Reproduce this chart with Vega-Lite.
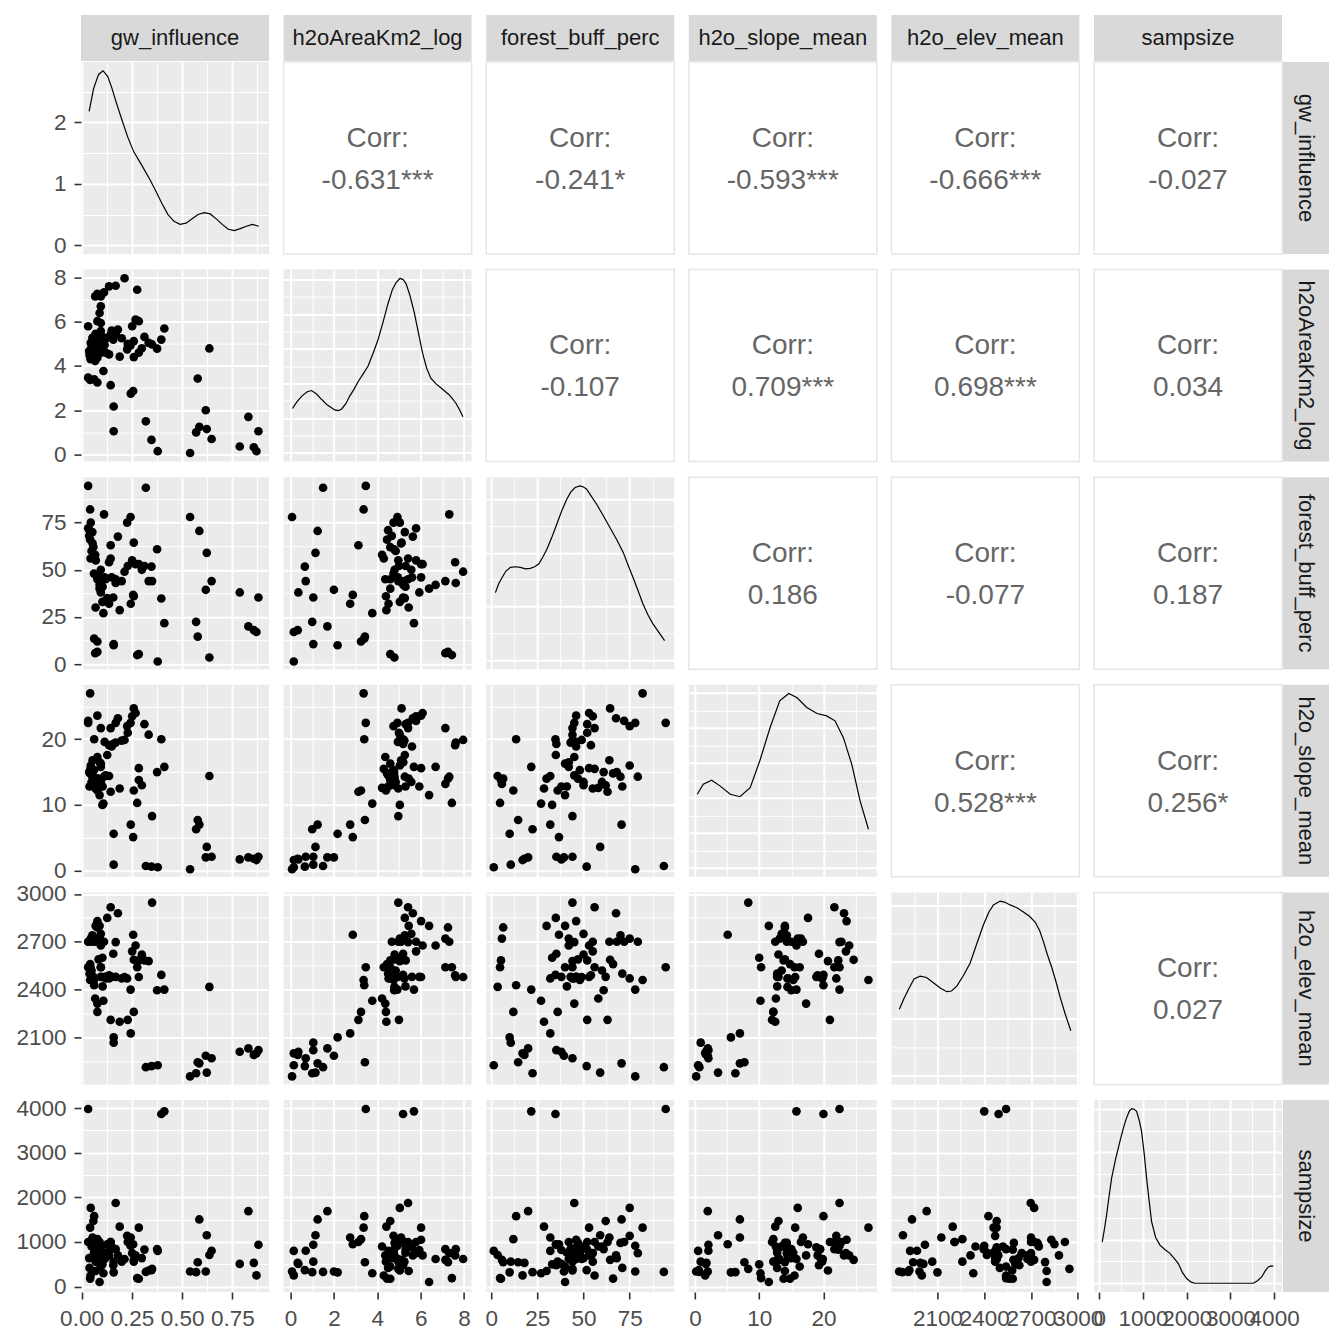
{
"$schema":"https://vega.github.io/schema/vega-lite/v6.json",
"background":"white",
"padding":{"left":1,"top":14,"right":5,"bottom":5},
"config":{"view":{"fill":"#EBEBEB","stroke":null},"axis":{"domain":false,"gridColor":"white","title":null,"labelFont":"Liberation Sans","labelFontSize":22.5,"labelColor":"#4D4D4D","tickColor":"#333333","tickSize":7,"tickWidth":1.6,"labelPadding":8,"labelOverlap":false,"labelFlush":false,"labelBound":false,"minExtent":0},"text":{"font":"Liberation Sans"}},
"datasets":{
"pts":[
{"gw_influence":0.540,"h2oAreaKm2_log":0.07,"forest_buff_perc":78,"h2o_slope_mean":0.2,"h2o_elev_mean":1855,"sampsize":340},
{"gw_influence":0.578,"h2oAreaKm2_log":3.43,"forest_buff_perc":14.6,"h2o_slope_mean":7.7,"h2o_elev_mean":1944,"sampsize":546},
{"gw_influence":0.570,"h2oAreaKm2_log":1.00,"forest_buff_perc":22.4,"h2o_slope_mean":6.3,"h2o_elev_mean":1875,"sampsize":325},
{"gw_influence":0.586,"h2oAreaKm2_log":1.25,"forest_buff_perc":70.6,"h2o_slope_mean":7.0,"h2o_elev_mean":1937,"sampsize":1505},
{"gw_influence":0.623,"h2oAreaKm2_log":1.15,"forest_buff_perc":59.0,"h2o_slope_mean":3.6,"h2o_elev_mean":1879,"sampsize":1151},
{"gw_influence":0.618,"h2oAreaKm2_log":2.00,"forest_buff_perc":39.4,"h2o_slope_mean":2.0,"h2o_elev_mean":1985,"sampsize":340},
{"gw_influence":0.647,"h2oAreaKm2_log":0.70,"forest_buff_perc":44.0,"h2o_slope_mean":2.1,"h2o_elev_mean":1969,"sampsize":804},
{"gw_influence":0.636,"h2oAreaKm2_log":4.79,"forest_buff_perc":3.5,"h2o_slope_mean":14.4,"h2o_elev_mean":2417,"sampsize":708},
{"gw_influence":0.787,"h2oAreaKm2_log":0.36,"forest_buff_perc":38.0,"h2o_slope_mean":1.7,"h2o_elev_mean":2010,"sampsize":509},
{"gw_influence":0.830,"h2oAreaKm2_log":1.70,"forest_buff_perc":20.0,"h2o_slope_mean":2.0,"h2o_elev_mean":2031,"sampsize":1690},
{"gw_influence":0.857,"h2oAreaKm2_log":0.33,"forest_buff_perc":18.0,"h2o_slope_mean":1.8,"h2o_elev_mean":1990,"sampsize":531},
{"gw_influence":0.870,"h2oAreaKm2_log":0.15,"forest_buff_perc":17.0,"h2o_slope_mean":1.6,"h2o_elev_mean":2000,"sampsize":251},
{"gw_influence":0.880,"h2oAreaKm2_log":1.05,"forest_buff_perc":35.3,"h2o_slope_mean":2.1,"h2o_elev_mean":2020,"sampsize":937},
{"gw_influence":0.145,"h2oAreaKm2_log":3.13,"forest_buff_perc":63,"h2o_slope_mean":12.0,"h2o_elev_mean":2210,"sampsize":1000},
{"gw_influence":0.160,"h2oAreaKm2_log":2.17,"forest_buff_perc":10.0,"h2o_slope_mean":5.6,"h2o_elev_mean":2100,"sampsize":320},
{"gw_influence":0.160,"h2oAreaKm2_log":1.05,"forest_buff_perc":10.6,"h2o_slope_mean":0.9,"h2o_elev_mean":2067,"sampsize":560},
{"gw_influence":0.245,"h2oAreaKm2_log":2.75,"forest_buff_perc":32.0,"h2o_slope_mean":7.0,"h2o_elev_mean":2125,"sampsize":1100},
{"gw_influence":0.257,"h2oAreaKm2_log":2.87,"forest_buff_perc":36.7,"h2o_slope_mean":5.1,"h2o_elev_mean":2744,"sampsize":950},
{"gw_influence":0.320,"h2oAreaKm2_log":1.50,"forest_buff_perc":93.5,"h2o_slope_mean":0.7,"h2o_elev_mean":1913,"sampsize":330},
{"gw_influence":0.348,"h2oAreaKm2_log":0.66,"forest_buff_perc":51.7,"h2o_slope_mean":0.6,"h2o_elev_mean":1920,"sampsize":370},
{"gw_influence":0.379,"h2oAreaKm2_log":0.15,"forest_buff_perc":1.4,"h2o_slope_mean":0.5,"h2o_elev_mean":1925,"sampsize":800},
{"gw_influence":0.033,"h2oAreaKm2_log":5.79,"forest_buff_perc":72,"h2o_slope_mean":22.8,"h2o_elev_mean":2700,"sampsize":1000},
{"gw_influence":0.033,"h2oAreaKm2_log":3.47,"forest_buff_perc":94.5,"h2o_slope_mean":22.5,"h2o_elev_mean":2540,"sampsize":3978},
{"gw_influence":0.043,"h2oAreaKm2_log":3.37,"forest_buff_perc":82,"h2o_slope_mean":27.0,"h2o_elev_mean":2460,"sampsize":1321},
{"gw_influence":0.063,"h2oAreaKm2_log":3.40,"forest_buff_perc":13.5,"h2o_slope_mean":20.0,"h2o_elev_mean":2427,"sampsize":1579},
{"gw_influence":0.079,"h2oAreaKm2_log":3.25,"forest_buff_perc":12,"h2o_slope_mean":12.2,"h2o_elev_mean":2260,"sampsize":1063},
{"gw_influence":0.046,"h2oAreaKm2_log":5.04,"forest_buff_perc":75,"h2o_slope_mean":16,"h2o_elev_mean":2720,"sampsize":1764},
{"gw_influence":0.038,"h2oAreaKm2_log":4.67,"forest_buff_perc":68,"h2o_slope_mean":15,"h2o_elev_mean":2700,"sampsize":640},
{"gw_influence":0.043,"h2oAreaKm2_log":4.45,"forest_buff_perc":66,"h2o_slope_mean":14.8,"h2o_elev_mean":2560,"sampsize":180},
{"gw_influence":0.059,"h2oAreaKm2_log":4.60,"forest_buff_perc":62,"h2o_slope_mean":13,"h2o_elev_mean":2480,"sampsize":1469},
{"gw_influence":0.068,"h2oAreaKm2_log":4.22,"forest_buff_perc":58,"h2o_slope_mean":12.6,"h2o_elev_mean":2344,"sampsize":900},
{"gw_influence":0.079,"h2oAreaKm2_log":4.37,"forest_buff_perc":45,"h2o_slope_mean":17.3,"h2o_elev_mean":2312,"sampsize":700},
{"gw_influence":0.054,"h2oAreaKm2_log":5.27,"forest_buff_perc":70,"h2o_slope_mean":14.3,"h2o_elev_mean":2740,"sampsize":980},
{"gw_influence":0.071,"h2oAreaKm2_log":4.97,"forest_buff_perc":55,"h2o_slope_mean":12.5,"h2o_elev_mean":2700,"sampsize":560},
{"gw_influence":0.068,"h2oAreaKm2_log":7.14,"forest_buff_perc":5.8,"h2o_slope_mean":13.2,"h2o_elev_mean":2720,"sampsize":600},
{"gw_influence":0.079,"h2oAreaKm2_log":7.26,"forest_buff_perc":6.5,"h2o_slope_mean":14.0,"h2o_elev_mean":2790,"sampsize":550},
{"gw_influence":0.096,"h2oAreaKm2_log":7.14,"forest_buff_perc":44,"h2o_slope_mean":21.7,"h2o_elev_mean":2540,"sampsize":840},
{"gw_influence":0.112,"h2oAreaKm2_log":7.32,"forest_buff_perc":79.4,"h2o_slope_mean":14.3,"h2o_elev_mean":2700,"sampsize":750},
{"gw_influence":0.096,"h2oAreaKm2_log":6.69,"forest_buff_perc":42,"h2o_slope_mean":15.8,"h2o_elev_mean":2677,"sampsize":620},
{"gw_influence":0.090,"h2oAreaKm2_log":6.39,"forest_buff_perc":40,"h2o_slope_mean":11.5,"h2o_elev_mean":2800,"sampsize":103},
{"gw_influence":0.096,"h2oAreaKm2_log":5.94,"forest_buff_perc":38,"h2o_slope_mean":12.8,"h2o_elev_mean":2480,"sampsize":820},
{"gw_influence":0.079,"h2oAreaKm2_log":6.02,"forest_buff_perc":46,"h2o_slope_mean":23.6,"h2o_elev_mean":2830,"sampsize":1050},
{"gw_influence":0.096,"h2oAreaKm2_log":5.57,"forest_buff_perc":50,"h2o_slope_mean":13.5,"h2o_elev_mean":2750,"sampsize":900},
{"gw_influence":0.137,"h2oAreaKm2_log":7.59,"forest_buff_perc":54,"h2o_slope_mean":19.1,"h2o_elev_mean":2490,"sampsize":700},
{"gw_influence":0.170,"h2oAreaKm2_log":7.62,"forest_buff_perc":43,"h2o_slope_mean":19.5,"h2o_elev_mean":2480,"sampsize":840},
{"gw_influence":0.214,"h2oAreaKm2_log":7.96,"forest_buff_perc":49,"h2o_slope_mean":19.9,"h2o_elev_mean":2479,"sampsize":620},
{"gw_influence":0.277,"h2oAreaKm2_log":7.44,"forest_buff_perc":4.8,"h2o_slope_mean":10.3,"h2o_elev_mean":2540,"sampsize":192},
{"gw_influence":0.104,"h2oAreaKm2_log":5.04,"forest_buff_perc":33,"h2o_slope_mean":10.0,"h2o_elev_mean":2600,"sampsize":500},
{"gw_influence":0.128,"h2oAreaKm2_log":5.27,"forest_buff_perc":35,"h2o_slope_mean":17.6,"h2o_elev_mean":2850,"sampsize":950},
{"gw_influence":0.145,"h2oAreaKm2_log":5.42,"forest_buff_perc":56,"h2o_slope_mean":21.7,"h2o_elev_mean":2917,"sampsize":1000},
{"gw_influence":0.170,"h2oAreaKm2_log":5.42,"forest_buff_perc":45,"h2o_slope_mean":22.5,"h2o_elev_mean":2698,"sampsize":1874},
{"gw_influence":0.181,"h2oAreaKm2_log":5.64,"forest_buff_perc":67.6,"h2o_slope_mean":23.2,"h2o_elev_mean":2879,"sampsize":700},
{"gw_influence":0.158,"h2oAreaKm2_log":5.19,"forest_buff_perc":35.3,"h2o_slope_mean":19.3,"h2o_elev_mean":2625,"sampsize":480},
{"gw_influence":0.137,"h2oAreaKm2_log":4.52,"forest_buff_perc":32,"h2o_slope_mean":14.4,"h2o_elev_mean":2470,"sampsize":800},
{"gw_influence":0.190,"h2oAreaKm2_log":4.42,"forest_buff_perc":28.6,"h2o_slope_mean":12.5,"h2o_elev_mean":2198,"sampsize":1343},
{"gw_influence":0.109,"h2oAreaKm2_log":3.77,"forest_buff_perc":27,"h2o_slope_mean":10.2,"h2o_elev_mean":2330,"sampsize":300},
{"gw_influence":0.227,"h2oAreaKm2_log":4.75,"forest_buff_perc":75,"h2o_slope_mean":22.0,"h2o_elev_mean":2470,"sampsize":1137},
{"gw_influence":0.244,"h2oAreaKm2_log":4.93,"forest_buff_perc":78,"h2o_slope_mean":22.5,"h2o_elev_mean":2400,"sampsize":915},
{"gw_influence":0.260,"h2oAreaKm2_log":5.12,"forest_buff_perc":64.4,"h2o_slope_mean":24.7,"h2o_elev_mean":2587,"sampsize":600},
{"gw_influence":0.252,"h2oAreaKm2_log":5.79,"forest_buff_perc":55,"h2o_slope_mean":23.5,"h2o_elev_mean":2640,"sampsize":750},
{"gw_influence":0.269,"h2oAreaKm2_log":6.09,"forest_buff_perc":53,"h2o_slope_mean":24.0,"h2o_elev_mean":2677,"sampsize":700},
{"gw_influence":0.285,"h2oAreaKm2_log":6.02,"forest_buff_perc":53,"h2o_slope_mean":15.6,"h2o_elev_mean":2479,"sampsize":1321},
{"gw_influence":0.285,"h2oAreaKm2_log":4.60,"forest_buff_perc":5.3,"h2o_slope_mean":13.8,"h2o_elev_mean":2583,"sampsize":177},
{"gw_influence":0.313,"h2oAreaKm2_log":5.31,"forest_buff_perc":52,"h2o_slope_mean":22.3,"h2o_elev_mean":2583,"sampsize":830},
{"gw_influence":0.334,"h2oAreaKm2_log":5.04,"forest_buff_perc":44,"h2o_slope_mean":20.7,"h2o_elev_mean":2579,"sampsize":362},
{"gw_influence":0.351,"h2oAreaKm2_log":4.97,"forest_buff_perc":44,"h2o_slope_mean":8.3,"h2o_elev_mean":2946,"sampsize":399},
{"gw_influence":0.376,"h2oAreaKm2_log":4.78,"forest_buff_perc":60.9,"h2o_slope_mean":15.0,"h2o_elev_mean":2396,"sampsize":841},
{"gw_influence":0.397,"h2oAreaKm2_log":5.19,"forest_buff_perc":34.8,"h2o_slope_mean":20.0,"h2o_elev_mean":2492,"sampsize":3867},
{"gw_influence":0.412,"h2oAreaKm2_log":5.69,"forest_buff_perc":21.7,"h2o_slope_mean":15.8,"h2o_elev_mean":2400,"sampsize":3926},
{"gw_influence":0.120,"h2oAreaKm2_log":4.60,"forest_buff_perc":45,"h2o_slope_mean":14.5,"h2o_elev_mean":2470,"sampsize":650},
{"gw_influence":0.096,"h2oAreaKm2_log":4.60,"forest_buff_perc":40,"h2o_slope_mean":16.3,"h2o_elev_mean":2540,"sampsize":450},
{"gw_influence":0.050,"h2oAreaKm2_log":4.85,"forest_buff_perc":60,"h2o_slope_mean":13.5,"h2o_elev_mean":2520,"sampsize":900},
{"gw_influence":0.062,"h2oAreaKm2_log":4.75,"forest_buff_perc":48,"h2o_slope_mean":15.3,"h2o_elev_mean":2460,"sampsize":760},
{"gw_influence":0.040,"h2oAreaKm2_log":4.50,"forest_buff_perc":71,"h2o_slope_mean":12.8,"h2o_elev_mean":2500,"sampsize":420},
{"gw_influence":0.055,"h2oAreaKm2_log":5.10,"forest_buff_perc":64,"h2o_slope_mean":16.8,"h2o_elev_mean":2700,"sampsize":1100},
{"gw_influence":0.085,"h2oAreaKm2_log":4.80,"forest_buff_perc":47,"h2o_slope_mean":14.0,"h2o_elev_mean":2590,"sampsize":980},
{"gw_influence":0.090,"h2oAreaKm2_log":5.20,"forest_buff_perc":42,"h2o_slope_mean":16.5,"h2o_elev_mean":2720,"sampsize":1000},
{"gw_influence":0.115,"h2oAreaKm2_log":4.95,"forest_buff_perc":46,"h2o_slope_mean":19.6,"h2o_elev_mean":2480,"sampsize":620},
{"gw_influence":0.200,"h2oAreaKm2_log":5.25,"forest_buff_perc":44,"h2o_slope_mean":19.8,"h2o_elev_mean":2470,"sampsize":560},
{"gw_influence":0.230,"h2oAreaKm2_log":5.00,"forest_buff_perc":52,"h2o_slope_mean":21.0,"h2o_elev_mean":2210,"sampsize":1000},
{"gw_influence":0.300,"h2oAreaKm2_log":4.80,"forest_buff_perc":50,"h2o_slope_mean":13.0,"h2o_elev_mean":2620,"sampsize":640},
{"gw_influence":0.150,"h2oAreaKm2_log":5.60,"forest_buff_perc":46,"h2o_slope_mean":18.9,"h2o_elev_mean":2480,"sampsize":880},
{"gw_influence":0.070,"h2oAreaKm2_log":5.45,"forest_buff_perc":30,"h2o_slope_mean":14.0,"h2o_elev_mean":2800,"sampsize":350},
{"gw_influence":0.105,"h2oAreaKm2_log":5.30,"forest_buff_perc":41,"h2o_slope_mean":12.8,"h2o_elev_mean":2420,"sampsize":760},
{"gw_influence":0.045,"h2oAreaKm2_log":4.30,"forest_buff_perc":56,"h2o_slope_mean":15.5,"h2o_elev_mean":2540,"sampsize":250},
{"gw_influence":0.260,"h2oAreaKm2_log":4.40,"forest_buff_perc":36,"h2o_slope_mean":12.2,"h2o_elev_mean":2260,"sampsize":560}
],
"dgw":[{"x":0.038,"density":2.18},{"x":0.06,"density":2.55},{"x":0.085,"density":2.78},{"x":0.107,"density":2.84},{"x":0.13,"density":2.75},{"x":0.15,"density":2.57},{"x":0.175,"density":2.3},{"x":0.2,"density":2.05},{"x":0.23,"density":1.76},{"x":0.26,"density":1.52},{"x":0.3,"density":1.3},{"x":0.34,"density":1.07},{"x":0.37,"density":0.88},{"x":0.4,"density":0.68},{"x":0.43,"density":0.5},{"x":0.46,"density":0.39},{"x":0.49,"density":0.34},{"x":0.52,"density":0.36},{"x":0.55,"density":0.43},{"x":0.58,"density":0.5},{"x":0.61,"density":0.53},{"x":0.64,"density":0.51},{"x":0.67,"density":0.43},{"x":0.7,"density":0.34},{"x":0.73,"density":0.26},{"x":0.76,"density":0.24},{"x":0.79,"density":0.27},{"x":0.82,"density":0.31},{"x":0.85,"density":0.34},{"x":0.881,"density":0.31}],
"darea":[{"x":0.09,"density":0.064},{"x":0.3,"density":0.074},{"x":0.52,"density":0.082},{"x":0.75,"density":0.088},{"x":0.97,"density":0.09},{"x":1.2,"density":0.085},{"x":1.44,"density":0.077},{"x":1.7,"density":0.069},{"x":2.04,"density":0.062},{"x":2.2,"density":0.061},{"x":2.35,"density":0.063},{"x":2.55,"density":0.071},{"x":2.73,"density":0.082},{"x":2.93,"density":0.092},{"x":3.12,"density":0.103},{"x":3.35,"density":0.114},{"x":3.57,"density":0.125},{"x":3.8,"density":0.143},{"x":4.03,"density":0.163},{"x":4.26,"density":0.188},{"x":4.49,"density":0.215},{"x":4.7,"density":0.236},{"x":4.87,"density":0.246},{"x":5.05,"density":0.252},{"x":5.2,"density":0.25},{"x":5.33,"density":0.244},{"x":5.5,"density":0.228},{"x":5.71,"density":0.202},{"x":5.9,"density":0.173},{"x":6.09,"density":0.144},{"x":6.28,"density":0.122},{"x":6.47,"density":0.108},{"x":6.7,"density":0.1},{"x":6.93,"density":0.094},{"x":7.12,"density":0.089},{"x":7.31,"density":0.084},{"x":7.47,"density":0.078},{"x":7.62,"density":0.072},{"x":7.8,"density":0.062},{"x":7.95,"density":0.052}],
"dforest":[{"x":2.3,"density":0.0063},{"x":4,"density":0.0071},{"x":5.9,"density":0.0077},{"x":8,"density":0.0083},{"x":10.4,"density":0.00864},{"x":13,"density":0.0087},{"x":15.8,"density":0.00864},{"x":18.5,"density":0.0085},{"x":21.2,"density":0.00855},{"x":23.5,"density":0.0087},{"x":25.7,"density":0.00895},{"x":28,"density":0.0096},{"x":30.2,"density":0.01034},{"x":33,"density":0.0115},{"x":35.5,"density":0.01265},{"x":38,"density":0.0138},{"x":40.9,"density":0.01497},{"x":43,"density":0.0156},{"x":45.4,"density":0.01605},{"x":48.1,"density":0.0162},{"x":50,"density":0.0161},{"x":51.7,"density":0.0159},{"x":54,"density":0.0153},{"x":57.1,"density":0.0145},{"x":60.5,"density":0.0135},{"x":64.3,"density":0.01234},{"x":68,"density":0.0112},{"x":71.5,"density":0.01003},{"x":74,"density":0.0089},{"x":76.8,"density":0.0077},{"x":79.5,"density":0.0065},{"x":82.2,"density":0.00525},{"x":85,"density":0.0042},{"x":87.6,"density":0.0034},{"x":90.8,"density":0.0026},{"x":93.9,"density":0.00185}],
"dslope":[{"x":0.37,"density":0.0211},{"x":1.3,"density":0.024},{"x":2.6,"density":0.0251},{"x":3.9,"density":0.0235},{"x":5.5,"density":0.0211},{"x":7.0,"density":0.0204},{"x":8.6,"density":0.023},{"x":10.1,"density":0.0307},{"x":11.7,"density":0.0402},{"x":13.2,"density":0.0478},{"x":14.6,"density":0.0499},{"x":15.9,"density":0.0487},{"x":17.4,"density":0.0459},{"x":19.0,"density":0.0442},{"x":20.5,"density":0.0435},{"x":21.8,"density":0.0421},{"x":23.1,"density":0.0373},{"x":24.4,"density":0.0297},{"x":25.7,"density":0.0192},{"x":27.0,"density":0.0111}],
"delev":[{"x":1856,"density":0.000467},{"x":1885,"density":0.00054},{"x":1914,"density":0.000606},{"x":1950,"density":0.00068},{"x":1989,"density":0.000699},{"x":2030,"density":0.00069},{"x":2074,"density":0.000653},{"x":2120,"density":0.000615},{"x":2160,"density":0.00059},{"x":2190,"density":0.000595},{"x":2224,"density":0.000629},{"x":2265,"density":0.0007},{"x":2310,"density":0.000792},{"x":2350,"density":0.00092},{"x":2395,"density":0.00106},{"x":2430,"density":0.00115},{"x":2459,"density":0.0012},{"x":2502,"density":0.001227},{"x":2530,"density":0.00122},{"x":2566,"density":0.0012},{"x":2610,"density":0.00118},{"x":2651,"density":0.00115},{"x":2690,"density":0.00112},{"x":2726,"density":0.00108},{"x":2755,"density":0.00102},{"x":2780,"density":0.00094},{"x":2805,"density":0.00085},{"x":2833,"density":0.00076},{"x":2860,"density":0.00066},{"x":2887,"density":0.00055},{"x":2920,"density":0.00043},{"x":2955,"density":0.000316}],
"dsamp":[{"x":69,"density":0.00019},{"x":120,"density":0.00025},{"x":168,"density":0.000313},{"x":225,"density":0.0004},{"x":283,"density":0.000482},{"x":375,"density":0.00057},{"x":473,"density":0.00065},{"x":550,"density":0.00071},{"x":625,"density":0.000758},{"x":690,"density":0.00079},{"x":740,"density":0.0008},{"x":800,"density":0.000797},{"x":854,"density":0.000788},{"x":910,"density":0.00075},{"x":968,"density":0.000696},{"x":1025,"density":0.0006},{"x":1083,"density":0.000482},{"x":1140,"density":0.00038},{"x":1197,"density":0.000282},{"x":1290,"density":0.00021},{"x":1389,"density":0.000175},{"x":1500,"density":0.000155},{"x":1617,"density":0.000137},{"x":1710,"density":0.000115},{"x":1809,"density":0.0000906},{"x":1900,"density":0.00005},{"x":2000,"density":0.0000216},{"x":2100,"density":0.000005},{"x":2190,"density":0},{"x":2500,"density":0},{"x":3000,"density":0},{"x":3300,"density":0},{"x":3525,"density":0},{"x":3620,"density":0.000012},{"x":3714,"density":0.000029},{"x":3800,"density":0.000058},{"x":3867,"density":0.000075},{"x":3930,"density":0.00008},{"x":3983,"density":0.000078}]
},
"columns":6,
"spacing":{"row":15.6,"column":14.6},
"bounds":"flush",
"concat":[
{"width":188,"height":192,"resolve":{"axis":{"x":"independent","y":"independent"}},"layer":[
 {"data":{"name":"dgw"},"mark":{"type":"line","color":"black","strokeWidth":1.2},"encoding":{
  "x":{"field":"x","type":"quantitative","scale":{"domain":[-0.0025,0.9325],"nice":false,"zero":false},"axis":{"values":[0,0.125,0.25,0.375,0.5,0.625,0.75,0.875],"labels":false,"ticks":false,"gridWidth":{"condition":{"test":"abs(datum.value/0.25-round(datum.value/0.25))<0.01","value":2},"value":1}}},
  "y":{"field":"density","type":"quantitative","scale":{"domain":[-0.142,2.982],"nice":false,"zero":false},"axis":{"orient":"left","values":[0,0.5,1,1.5,2,2.5],"format":"~g","minExtent":80,"maxExtent":80,"labelExpr":"abs(datum.value-round(datum.value))<0.01 ? datum.label : ''","tickOpacity":{"condition":{"test":"abs(datum.value-round(datum.value))<0.01","value":1},"value":0},"gridWidth":{"condition":{"test":"abs(datum.value-round(datum.value))<0.01","value":2},"value":1}}}}},
 {"data":{"values":[{"t":"gw_influence"}]},"mark":{"type":"rect","color":"#D9D9D9"},"encoding":{"x":{"datum":-0.0025,"type":"quantitative","scale":{"domain":[-0.0025,0.9325],"nice":false,"zero":false},"axis":null},"x2":{"datum":0.9325},"y":{"datum":2.9983,"type":"quantitative","scale":{"domain":[-0.142,2.982],"nice":false,"zero":false},"axis":null},"y2":{"datum":3.7467}}},
 {"data":{"values":[{"t":"gw_influence"}]},"mark":{"type":"text","fontSize":22,"color":"#1A1A1A"},"encoding":{"x":{"datum":0.465,"type":"quantitative","scale":{"domain":[-0.0025,0.9325],"nice":false,"zero":false},"axis":null},"y":{"datum":3.3725,"type":"quantitative","scale":{"domain":[-0.142,2.982],"nice":false,"zero":false},"axis":null},"text":{"field":"t"}}}
]},
{"width":188,"height":192,"view":{"fill":"white","stroke":"#E6E6E6","strokeWidth":1.5},"layer":[
 {"data":{"values":[{"t":"Corr:\n-0.631***"}]},"mark":{"type":"text","fontSize":28,"color":"#666666","lineBreak":"\n","lineHeight":42},"encoding":{"x":{"datum":0.5,"type":"quantitative","scale":{"domain":[0,1],"nice":false,"zero":false},"axis":null},"y":{"datum":0.6,"type":"quantitative","scale":{"domain":[0,1],"nice":false,"zero":false},"axis":null},"text":{"field":"t"}}},
 {"data":{"values":[{"t":"h2oAreaKm2_log"}]},"mark":{"type":"rect","color":"#D9D9D9"},"encoding":{"x":{"datum":0,"type":"quantitative","scale":{"domain":[0,1],"nice":false,"zero":false},"axis":null},"x2":{"datum":1},"y":{"datum":1.0052,"type":"quantitative","scale":{"domain":[0,1],"nice":false,"zero":false},"axis":null},"y2":{"datum":1.2448}}},
 {"data":{"values":[{"t":"h2oAreaKm2_log"}]},"mark":{"type":"text","fontSize":22,"color":"#1A1A1A"},"encoding":{"x":{"datum":0.5,"type":"quantitative","scale":{"domain":[0,1],"nice":false,"zero":false},"axis":null},"y":{"datum":1.125,"type":"quantitative","scale":{"domain":[0,1],"nice":false,"zero":false},"axis":null},"text":{"field":"t"}}}
]},
{"width":188,"height":192,"view":{"fill":"white","stroke":"#E6E6E6","strokeWidth":1.5},"layer":[
 {"data":{"values":[{"t":"Corr:\n-0.241*"}]},"mark":{"type":"text","fontSize":28,"color":"#666666","lineBreak":"\n","lineHeight":42},"encoding":{"x":{"datum":0.5,"type":"quantitative","scale":{"domain":[0,1],"nice":false,"zero":false},"axis":null},"y":{"datum":0.6,"type":"quantitative","scale":{"domain":[0,1],"nice":false,"zero":false},"axis":null},"text":{"field":"t"}}},
 {"data":{"values":[{"t":"forest_buff_perc"}]},"mark":{"type":"rect","color":"#D9D9D9"},"encoding":{"x":{"datum":0,"type":"quantitative","scale":{"domain":[0,1],"nice":false,"zero":false},"axis":null},"x2":{"datum":1},"y":{"datum":1.0052,"type":"quantitative","scale":{"domain":[0,1],"nice":false,"zero":false},"axis":null},"y2":{"datum":1.2448}}},
 {"data":{"values":[{"t":"forest_buff_perc"}]},"mark":{"type":"text","fontSize":22,"color":"#1A1A1A"},"encoding":{"x":{"datum":0.5,"type":"quantitative","scale":{"domain":[0,1],"nice":false,"zero":false},"axis":null},"y":{"datum":1.125,"type":"quantitative","scale":{"domain":[0,1],"nice":false,"zero":false},"axis":null},"text":{"field":"t"}}}
]},
{"width":188,"height":192,"view":{"fill":"white","stroke":"#E6E6E6","strokeWidth":1.5},"layer":[
 {"data":{"values":[{"t":"Corr:\n-0.593***"}]},"mark":{"type":"text","fontSize":28,"color":"#666666","lineBreak":"\n","lineHeight":42},"encoding":{"x":{"datum":0.5,"type":"quantitative","scale":{"domain":[0,1],"nice":false,"zero":false},"axis":null},"y":{"datum":0.6,"type":"quantitative","scale":{"domain":[0,1],"nice":false,"zero":false},"axis":null},"text":{"field":"t"}}},
 {"data":{"values":[{"t":"h2o_slope_mean"}]},"mark":{"type":"rect","color":"#D9D9D9"},"encoding":{"x":{"datum":0,"type":"quantitative","scale":{"domain":[0,1],"nice":false,"zero":false},"axis":null},"x2":{"datum":1},"y":{"datum":1.0052,"type":"quantitative","scale":{"domain":[0,1],"nice":false,"zero":false},"axis":null},"y2":{"datum":1.2448}}},
 {"data":{"values":[{"t":"h2o_slope_mean"}]},"mark":{"type":"text","fontSize":22,"color":"#1A1A1A"},"encoding":{"x":{"datum":0.5,"type":"quantitative","scale":{"domain":[0,1],"nice":false,"zero":false},"axis":null},"y":{"datum":1.125,"type":"quantitative","scale":{"domain":[0,1],"nice":false,"zero":false},"axis":null},"text":{"field":"t"}}}
]},
{"width":188,"height":192,"view":{"fill":"white","stroke":"#E6E6E6","strokeWidth":1.5},"layer":[
 {"data":{"values":[{"t":"Corr:\n-0.666***"}]},"mark":{"type":"text","fontSize":28,"color":"#666666","lineBreak":"\n","lineHeight":42},"encoding":{"x":{"datum":0.5,"type":"quantitative","scale":{"domain":[0,1],"nice":false,"zero":false},"axis":null},"y":{"datum":0.6,"type":"quantitative","scale":{"domain":[0,1],"nice":false,"zero":false},"axis":null},"text":{"field":"t"}}},
 {"data":{"values":[{"t":"h2o_elev_mean"}]},"mark":{"type":"rect","color":"#D9D9D9"},"encoding":{"x":{"datum":0,"type":"quantitative","scale":{"domain":[0,1],"nice":false,"zero":false},"axis":null},"x2":{"datum":1},"y":{"datum":1.0052,"type":"quantitative","scale":{"domain":[0,1],"nice":false,"zero":false},"axis":null},"y2":{"datum":1.2448}}},
 {"data":{"values":[{"t":"h2o_elev_mean"}]},"mark":{"type":"text","fontSize":22,"color":"#1A1A1A"},"encoding":{"x":{"datum":0.5,"type":"quantitative","scale":{"domain":[0,1],"nice":false,"zero":false},"axis":null},"y":{"datum":1.125,"type":"quantitative","scale":{"domain":[0,1],"nice":false,"zero":false},"axis":null},"text":{"field":"t"}}}
]},
{"width":188,"height":192,"view":{"fill":"white","stroke":"#E6E6E6","strokeWidth":1.5},"layer":[
 {"data":{"values":[{"t":"Corr:\n-0.027"}]},"mark":{"type":"text","fontSize":28,"color":"#666666","lineBreak":"\n","lineHeight":42},"encoding":{"x":{"datum":0.5,"type":"quantitative","scale":{"domain":[0,1],"nice":false,"zero":false},"axis":null},"y":{"datum":0.6,"type":"quantitative","scale":{"domain":[0,1],"nice":false,"zero":false},"axis":null},"text":{"field":"t"}}},
 {"data":{"values":[{"t":"sampsize"}]},"mark":{"type":"rect","color":"#D9D9D9"},"encoding":{"x":{"datum":0,"type":"quantitative","scale":{"domain":[0,1],"nice":false,"zero":false},"axis":null},"x2":{"datum":1},"y":{"datum":1.0052,"type":"quantitative","scale":{"domain":[0,1],"nice":false,"zero":false},"axis":null},"y2":{"datum":1.2448}}},
 {"data":{"values":[{"t":"sampsize"}]},"mark":{"type":"text","fontSize":22,"color":"#1A1A1A"},"encoding":{"x":{"datum":0.5,"type":"quantitative","scale":{"domain":[0,1],"nice":false,"zero":false},"axis":null},"y":{"datum":1.125,"type":"quantitative","scale":{"domain":[0,1],"nice":false,"zero":false},"axis":null},"text":{"field":"t"}}},
 {"data":{"values":[{"t":"gw_influence"}]},"mark":{"type":"rect","color":"#D9D9D9"},"encoding":{"x":{"datum":1.0053,"type":"quantitative","scale":{"domain":[0,1],"nice":false,"zero":false},"axis":null},"x2":{"datum":1.25},"y":{"datum":0,"type":"quantitative","scale":{"domain":[0,1],"nice":false,"zero":false},"axis":null},"y2":{"datum":1}}},
 {"data":{"values":[{"t":"gw_influence"}]},"mark":{"type":"text","fontSize":22,"angle":90,"color":"#1A1A1A"},"encoding":{"x":{"datum":1.1277,"type":"quantitative","scale":{"domain":[0,1],"nice":false,"zero":false},"axis":null},"y":{"datum":0.5,"type":"quantitative","scale":{"domain":[0,1],"nice":false,"zero":false},"axis":null},"text":{"field":"t"}}}
]},
{"width":188,"height":192,"data":{"name":"pts"},"mark":{"type":"circle","size":75,"color":"black","opacity":1},"encoding":{
 "x":{"field":"gw_influence","type":"quantitative","scale":{"domain":[-0.0025,0.9325],"nice":false,"zero":false},"axis":{"values":[0,0.125,0.25,0.375,0.5,0.625,0.75,0.875],"labels":false,"ticks":false,"gridWidth":{"condition":{"test":"abs(datum.value/0.25-round(datum.value/0.25))<0.01","value":2},"value":1}}},
 "y":{"field":"h2oAreaKm2_log","type":"quantitative","scale":{"domain":[-0.32,8.35],"nice":false,"zero":false},"axis":{"values":[0,1,2,3,4,5,6,7,8],"format":"d","minExtent":80,"maxExtent":80,"labelExpr":"abs(datum.value/2-round(datum.value/2))<0.01 ? datum.label : ''","tickOpacity":{"condition":{"test":"abs(datum.value/2-round(datum.value/2))<0.01","value":1},"value":0},"gridWidth":{"condition":{"test":"abs(datum.value/2-round(datum.value/2))<0.01","value":2},"value":1}}}}},
{"width":188,"height":192,"data":{"name":"darea"},"mark":{"type":"line","color":"black","strokeWidth":1.2},"encoding":{
 "x":{"field":"x","type":"quantitative","scale":{"domain":[-0.32,8.35],"nice":false,"zero":false},"axis":{"values":[0,1,2,3,4,5,6,7,8],"labels":false,"ticks":false,"gridWidth":{"condition":{"test":"abs(datum.value/2-round(datum.value/2))<0.01","value":2},"value":1}}},
 "y":{"field":"density","type":"quantitative","scale":{"domain":[-0.0126,0.2646],"nice":false,"zero":false},"axis":{"values":[0,0.025,0.05,0.075,0.1,0.125,0.15,0.175,0.2,0.225,0.25],"labels":false,"ticks":false,"gridWidth":{"condition":{"test":"abs(datum.value/0.05-round(datum.value/0.05))<0.01","value":2},"value":1}}}}},
{"width":188,"height":192,"view":{"fill":"white","stroke":"#E6E6E6","strokeWidth":1.5},"layer":[
 {"data":{"values":[{"t":"Corr:\n-0.107"}]},"mark":{"type":"text","fontSize":28,"color":"#666666","lineBreak":"\n","lineHeight":42},"encoding":{"x":{"datum":0.5,"type":"quantitative","scale":{"domain":[0,1],"nice":false,"zero":false},"axis":null},"y":{"datum":0.6,"type":"quantitative","scale":{"domain":[0,1],"nice":false,"zero":false},"axis":null},"text":{"field":"t"}}}
]},
{"width":188,"height":192,"view":{"fill":"white","stroke":"#E6E6E6","strokeWidth":1.5},"layer":[
 {"data":{"values":[{"t":"Corr:\n0.709***"}]},"mark":{"type":"text","fontSize":28,"color":"#666666","lineBreak":"\n","lineHeight":42},"encoding":{"x":{"datum":0.5,"type":"quantitative","scale":{"domain":[0,1],"nice":false,"zero":false},"axis":null},"y":{"datum":0.6,"type":"quantitative","scale":{"domain":[0,1],"nice":false,"zero":false},"axis":null},"text":{"field":"t"}}}
]},
{"width":188,"height":192,"view":{"fill":"white","stroke":"#E6E6E6","strokeWidth":1.5},"layer":[
 {"data":{"values":[{"t":"Corr:\n0.698***"}]},"mark":{"type":"text","fontSize":28,"color":"#666666","lineBreak":"\n","lineHeight":42},"encoding":{"x":{"datum":0.5,"type":"quantitative","scale":{"domain":[0,1],"nice":false,"zero":false},"axis":null},"y":{"datum":0.6,"type":"quantitative","scale":{"domain":[0,1],"nice":false,"zero":false},"axis":null},"text":{"field":"t"}}}
]},
{"width":188,"height":192,"view":{"fill":"white","stroke":"#E6E6E6","strokeWidth":1.5},"layer":[
 {"data":{"values":[{"t":"Corr:\n0.034"}]},"mark":{"type":"text","fontSize":28,"color":"#666666","lineBreak":"\n","lineHeight":42},"encoding":{"x":{"datum":0.5,"type":"quantitative","scale":{"domain":[0,1],"nice":false,"zero":false},"axis":null},"y":{"datum":0.6,"type":"quantitative","scale":{"domain":[0,1],"nice":false,"zero":false},"axis":null},"text":{"field":"t"}}},
 {"data":{"values":[{"t":"h2oAreaKm2_log"}]},"mark":{"type":"rect","color":"#D9D9D9"},"encoding":{"x":{"datum":1.0053,"type":"quantitative","scale":{"domain":[0,1],"nice":false,"zero":false},"axis":null},"x2":{"datum":1.25},"y":{"datum":0,"type":"quantitative","scale":{"domain":[0,1],"nice":false,"zero":false},"axis":null},"y2":{"datum":1}}},
 {"data":{"values":[{"t":"h2oAreaKm2_log"}]},"mark":{"type":"text","fontSize":22,"angle":90,"color":"#1A1A1A"},"encoding":{"x":{"datum":1.1277,"type":"quantitative","scale":{"domain":[0,1],"nice":false,"zero":false},"axis":null},"y":{"datum":0.5,"type":"quantitative","scale":{"domain":[0,1],"nice":false,"zero":false},"axis":null},"text":{"field":"t"}}}
]},
{"width":188,"height":192,"data":{"name":"pts"},"mark":{"type":"circle","size":75,"color":"black","opacity":1},"encoding":{
 "x":{"field":"gw_influence","type":"quantitative","scale":{"domain":[-0.0025,0.9325],"nice":false,"zero":false},"axis":{"values":[0,0.125,0.25,0.375,0.5,0.625,0.75,0.875],"labels":false,"ticks":false,"gridWidth":{"condition":{"test":"abs(datum.value/0.25-round(datum.value/0.25))<0.01","value":2},"value":1}}},
 "y":{"field":"forest_buff_perc","type":"quantitative","scale":{"domain":[-2.7,99.1],"nice":false,"zero":false},"axis":{"values":[0,12.5,25,37.5,50,62.5,75,87.5],"format":"d","minExtent":80,"maxExtent":80,"labelExpr":"abs(datum.value/25-round(datum.value/25))<0.01 ? datum.label : ''","tickOpacity":{"condition":{"test":"abs(datum.value/25-round(datum.value/25))<0.01","value":1},"value":0},"gridWidth":{"condition":{"test":"abs(datum.value/25-round(datum.value/25))<0.01","value":2},"value":1}}}}},
{"width":188,"height":192,"data":{"name":"pts"},"mark":{"type":"circle","size":75,"color":"black","opacity":1},"encoding":{
 "x":{"field":"h2oAreaKm2_log","type":"quantitative","scale":{"domain":[-0.32,8.35],"nice":false,"zero":false},"axis":{"values":[0,1,2,3,4,5,6,7,8],"labels":false,"ticks":false,"gridWidth":{"condition":{"test":"abs(datum.value/2-round(datum.value/2))<0.01","value":2},"value":1}}},
 "y":{"field":"forest_buff_perc","type":"quantitative","scale":{"domain":[-2.7,99.1],"nice":false,"zero":false},"axis":{"values":[0,12.5,25,37.5,50,62.5,75,87.5],"labels":false,"ticks":false,"gridWidth":{"condition":{"test":"abs(datum.value/25-round(datum.value/25))<0.01","value":2},"value":1}}}}},
{"width":188,"height":192,"data":{"name":"dforest"},"mark":{"type":"line","color":"black","strokeWidth":1.2},"encoding":{
 "x":{"field":"x","type":"quantitative","scale":{"domain":[-2.7,99.1],"nice":false,"zero":false},"axis":{"values":[0,12.5,25,37.5,50,62.5,75,87.5],"labels":false,"ticks":false,"gridWidth":{"condition":{"test":"abs(datum.value/25-round(datum.value/25))<0.01","value":2},"value":1}}},
 "y":{"field":"density","type":"quantitative","scale":{"domain":[-0.00081,0.01701],"nice":false,"zero":false},"axis":{"values":[0,0.0025,0.005,0.0075,0.01,0.0125,0.015],"labels":false,"ticks":false,"gridWidth":{"condition":{"test":"abs(datum.value/0.005-round(datum.value/0.005))<0.01","value":2},"value":1}}}}},
{"width":188,"height":192,"view":{"fill":"white","stroke":"#E6E6E6","strokeWidth":1.5},"layer":[
 {"data":{"values":[{"t":"Corr:\n0.186"}]},"mark":{"type":"text","fontSize":28,"color":"#666666","lineBreak":"\n","lineHeight":42},"encoding":{"x":{"datum":0.5,"type":"quantitative","scale":{"domain":[0,1],"nice":false,"zero":false},"axis":null},"y":{"datum":0.6,"type":"quantitative","scale":{"domain":[0,1],"nice":false,"zero":false},"axis":null},"text":{"field":"t"}}}
]},
{"width":188,"height":192,"view":{"fill":"white","stroke":"#E6E6E6","strokeWidth":1.5},"layer":[
 {"data":{"values":[{"t":"Corr:\n-0.077"}]},"mark":{"type":"text","fontSize":28,"color":"#666666","lineBreak":"\n","lineHeight":42},"encoding":{"x":{"datum":0.5,"type":"quantitative","scale":{"domain":[0,1],"nice":false,"zero":false},"axis":null},"y":{"datum":0.6,"type":"quantitative","scale":{"domain":[0,1],"nice":false,"zero":false},"axis":null},"text":{"field":"t"}}}
]},
{"width":188,"height":192,"view":{"fill":"white","stroke":"#E6E6E6","strokeWidth":1.5},"layer":[
 {"data":{"values":[{"t":"Corr:\n0.187"}]},"mark":{"type":"text","fontSize":28,"color":"#666666","lineBreak":"\n","lineHeight":42},"encoding":{"x":{"datum":0.5,"type":"quantitative","scale":{"domain":[0,1],"nice":false,"zero":false},"axis":null},"y":{"datum":0.6,"type":"quantitative","scale":{"domain":[0,1],"nice":false,"zero":false},"axis":null},"text":{"field":"t"}}},
 {"data":{"values":[{"t":"forest_buff_perc"}]},"mark":{"type":"rect","color":"#D9D9D9"},"encoding":{"x":{"datum":1.0053,"type":"quantitative","scale":{"domain":[0,1],"nice":false,"zero":false},"axis":null},"x2":{"datum":1.25},"y":{"datum":0,"type":"quantitative","scale":{"domain":[0,1],"nice":false,"zero":false},"axis":null},"y2":{"datum":1}}},
 {"data":{"values":[{"t":"forest_buff_perc"}]},"mark":{"type":"text","fontSize":22,"angle":90,"color":"#1A1A1A"},"encoding":{"x":{"datum":1.1277,"type":"quantitative","scale":{"domain":[0,1],"nice":false,"zero":false},"axis":null},"y":{"datum":0.5,"type":"quantitative","scale":{"domain":[0,1],"nice":false,"zero":false},"axis":null},"text":{"field":"t"}}}
]},
{"width":188,"height":192,"data":{"name":"pts"},"mark":{"type":"circle","size":75,"color":"black","opacity":1},"encoding":{
 "x":{"field":"gw_influence","type":"quantitative","scale":{"domain":[-0.0025,0.9325],"nice":false,"zero":false},"axis":{"values":[0,0.125,0.25,0.375,0.5,0.625,0.75,0.875],"labels":false,"ticks":false,"gridWidth":{"condition":{"test":"abs(datum.value/0.25-round(datum.value/0.25))<0.01","value":2},"value":1}}},
 "y":{"field":"h2o_slope_mean","type":"quantitative","scale":{"domain":[-0.95,28.3],"nice":false,"zero":false},"axis":{"values":[0,5,10,15,20,25],"format":"d","minExtent":80,"maxExtent":80,"labelExpr":"abs(datum.value/10-round(datum.value/10))<0.01 ? datum.label : ''","tickOpacity":{"condition":{"test":"abs(datum.value/10-round(datum.value/10))<0.01","value":1},"value":0},"gridWidth":{"condition":{"test":"abs(datum.value/10-round(datum.value/10))<0.01","value":2},"value":1}}}}},
{"width":188,"height":192,"data":{"name":"pts"},"mark":{"type":"circle","size":75,"color":"black","opacity":1},"encoding":{
 "x":{"field":"h2oAreaKm2_log","type":"quantitative","scale":{"domain":[-0.32,8.35],"nice":false,"zero":false},"axis":{"values":[0,1,2,3,4,5,6,7,8],"labels":false,"ticks":false,"gridWidth":{"condition":{"test":"abs(datum.value/2-round(datum.value/2))<0.01","value":2},"value":1}}},
 "y":{"field":"h2o_slope_mean","type":"quantitative","scale":{"domain":[-0.95,28.3],"nice":false,"zero":false},"axis":{"values":[0,5,10,15,20,25],"labels":false,"ticks":false,"gridWidth":{"condition":{"test":"abs(datum.value/10-round(datum.value/10))<0.01","value":2},"value":1}}}}},
{"width":188,"height":192,"data":{"name":"pts"},"mark":{"type":"circle","size":75,"color":"black","opacity":1},"encoding":{
 "x":{"field":"forest_buff_perc","type":"quantitative","scale":{"domain":[-2.7,99.1],"nice":false,"zero":false},"axis":{"values":[0,12.5,25,37.5,50,62.5,75,87.5],"labels":false,"ticks":false,"gridWidth":{"condition":{"test":"abs(datum.value/25-round(datum.value/25))<0.01","value":2},"value":1}}},
 "y":{"field":"h2o_slope_mean","type":"quantitative","scale":{"domain":[-0.95,28.3],"nice":false,"zero":false},"axis":{"values":[0,5,10,15,20,25],"labels":false,"ticks":false,"gridWidth":{"condition":{"test":"abs(datum.value/10-round(datum.value/10))<0.01","value":2},"value":1}}}}},
{"width":188,"height":192,"data":{"name":"dslope"},"mark":{"type":"line","color":"black","strokeWidth":1.2},"encoding":{
 "x":{"field":"x","type":"quantitative","scale":{"domain":[-0.95,28.3],"nice":false,"zero":false},"axis":{"values":[0,5,10,15,20,25],"labels":false,"ticks":false,"gridWidth":{"condition":{"test":"abs(datum.value/10-round(datum.value/10))<0.01","value":2},"value":1}}},
 "y":{"field":"density","type":"quantitative","scale":{"domain":[-0.0025,0.0524],"nice":false,"zero":false},"axis":{"values":[0,0.005,0.01,0.015,0.02,0.025,0.03,0.035,0.04,0.045,0.05],"labels":false,"ticks":false,"gridWidth":{"condition":{"test":"abs(datum.value/0.01-round(datum.value/0.01))<0.01","value":2},"value":1}}}}},
{"width":188,"height":192,"view":{"fill":"white","stroke":"#E6E6E6","strokeWidth":1.5},"layer":[
 {"data":{"values":[{"t":"Corr:\n0.528***"}]},"mark":{"type":"text","fontSize":28,"color":"#666666","lineBreak":"\n","lineHeight":42},"encoding":{"x":{"datum":0.5,"type":"quantitative","scale":{"domain":[0,1],"nice":false,"zero":false},"axis":null},"y":{"datum":0.6,"type":"quantitative","scale":{"domain":[0,1],"nice":false,"zero":false},"axis":null},"text":{"field":"t"}}}
]},
{"width":188,"height":192,"view":{"fill":"white","stroke":"#E6E6E6","strokeWidth":1.5},"layer":[
 {"data":{"values":[{"t":"Corr:\n0.256*"}]},"mark":{"type":"text","fontSize":28,"color":"#666666","lineBreak":"\n","lineHeight":42},"encoding":{"x":{"datum":0.5,"type":"quantitative","scale":{"domain":[0,1],"nice":false,"zero":false},"axis":null},"y":{"datum":0.6,"type":"quantitative","scale":{"domain":[0,1],"nice":false,"zero":false},"axis":null},"text":{"field":"t"}}},
 {"data":{"values":[{"t":"h2o_slope_mean"}]},"mark":{"type":"rect","color":"#D9D9D9"},"encoding":{"x":{"datum":1.0053,"type":"quantitative","scale":{"domain":[0,1],"nice":false,"zero":false},"axis":null},"x2":{"datum":1.25},"y":{"datum":0,"type":"quantitative","scale":{"domain":[0,1],"nice":false,"zero":false},"axis":null},"y2":{"datum":1}}},
 {"data":{"values":[{"t":"h2o_slope_mean"}]},"mark":{"type":"text","fontSize":22,"angle":90,"color":"#1A1A1A"},"encoding":{"x":{"datum":1.1277,"type":"quantitative","scale":{"domain":[0,1],"nice":false,"zero":false},"axis":null},"y":{"datum":0.5,"type":"quantitative","scale":{"domain":[0,1],"nice":false,"zero":false},"axis":null},"text":{"field":"t"}}}
]},
{"width":188,"height":192,"data":{"name":"pts"},"mark":{"type":"circle","size":75,"color":"black","opacity":1},"encoding":{
 "x":{"field":"gw_influence","type":"quantitative","scale":{"domain":[-0.0025,0.9325],"nice":false,"zero":false},"axis":{"values":[0,0.125,0.25,0.375,0.5,0.625,0.75,0.875],"labels":false,"ticks":false,"gridWidth":{"condition":{"test":"abs(datum.value/0.25-round(datum.value/0.25))<0.01","value":2},"value":1}}},
 "y":{"field":"h2o_elev_mean","type":"quantitative","scale":{"domain":[1805,3010],"nice":false,"zero":false},"axis":{"values":[1950,2100,2250,2400,2550,2700,2850,3000],"format":"d","minExtent":80,"maxExtent":80,"labelExpr":"abs(datum.value/300-round(datum.value/300))<0.01 ? datum.label : ''","tickOpacity":{"condition":{"test":"abs(datum.value/300-round(datum.value/300))<0.01","value":1},"value":0},"gridWidth":{"condition":{"test":"abs(datum.value/300-round(datum.value/300))<0.01","value":2},"value":1}}}}},
{"width":188,"height":192,"data":{"name":"pts"},"mark":{"type":"circle","size":75,"color":"black","opacity":1},"encoding":{
 "x":{"field":"h2oAreaKm2_log","type":"quantitative","scale":{"domain":[-0.32,8.35],"nice":false,"zero":false},"axis":{"values":[0,1,2,3,4,5,6,7,8],"labels":false,"ticks":false,"gridWidth":{"condition":{"test":"abs(datum.value/2-round(datum.value/2))<0.01","value":2},"value":1}}},
 "y":{"field":"h2o_elev_mean","type":"quantitative","scale":{"domain":[1805,3010],"nice":false,"zero":false},"axis":{"values":[1950,2100,2250,2400,2550,2700,2850,3000],"labels":false,"ticks":false,"gridWidth":{"condition":{"test":"abs(datum.value/300-round(datum.value/300))<0.01","value":2},"value":1}}}}},
{"width":188,"height":192,"data":{"name":"pts"},"mark":{"type":"circle","size":75,"color":"black","opacity":1},"encoding":{
 "x":{"field":"forest_buff_perc","type":"quantitative","scale":{"domain":[-2.7,99.1],"nice":false,"zero":false},"axis":{"values":[0,12.5,25,37.5,50,62.5,75,87.5],"labels":false,"ticks":false,"gridWidth":{"condition":{"test":"abs(datum.value/25-round(datum.value/25))<0.01","value":2},"value":1}}},
 "y":{"field":"h2o_elev_mean","type":"quantitative","scale":{"domain":[1805,3010],"nice":false,"zero":false},"axis":{"values":[1950,2100,2250,2400,2550,2700,2850,3000],"labels":false,"ticks":false,"gridWidth":{"condition":{"test":"abs(datum.value/300-round(datum.value/300))<0.01","value":2},"value":1}}}}},
{"width":188,"height":192,"data":{"name":"pts"},"mark":{"type":"circle","size":75,"color":"black","opacity":1},"encoding":{
 "x":{"field":"h2o_slope_mean","type":"quantitative","scale":{"domain":[-0.95,28.3],"nice":false,"zero":false},"axis":{"values":[0,5,10,15,20,25],"labels":false,"ticks":false,"gridWidth":{"condition":{"test":"abs(datum.value/10-round(datum.value/10))<0.01","value":2},"value":1}}},
 "y":{"field":"h2o_elev_mean","type":"quantitative","scale":{"domain":[1805,3010],"nice":false,"zero":false},"axis":{"values":[1950,2100,2250,2400,2550,2700,2850,3000],"labels":false,"ticks":false,"gridWidth":{"condition":{"test":"abs(datum.value/300-round(datum.value/300))<0.01","value":2},"value":1}}}}},
{"width":188,"height":192,"data":{"name":"delev"},"mark":{"type":"line","color":"black","strokeWidth":1.2},"encoding":{
 "x":{"field":"x","type":"quantitative","scale":{"domain":[1805,3010],"nice":false,"zero":false},"axis":{"values":[1950,2100,2250,2400,2550,2700,2850,3000],"labels":false,"ticks":false,"gridWidth":{"condition":{"test":"abs(datum.value/300-round(datum.value/300))<0.01","value":2},"value":1}}},
 "y":{"field":"density","type":"quantitative","scale":{"domain":[-0.0000614,0.001288],"nice":false,"zero":false},"axis":{"values":[0,0.0002,0.0004,0.0006,0.0008,0.001,0.0012],"labels":false,"ticks":false,"gridWidth":{"condition":{"test":"abs(datum.value/0.0004-round(datum.value/0.0004))<0.01","value":2},"value":1}}}}},
{"width":188,"height":192,"view":{"fill":"white","stroke":"#E6E6E6","strokeWidth":1.5},"layer":[
 {"data":{"values":[{"t":"Corr:\n0.027"}]},"mark":{"type":"text","fontSize":28,"color":"#666666","lineBreak":"\n","lineHeight":42},"encoding":{"x":{"datum":0.5,"type":"quantitative","scale":{"domain":[0,1],"nice":false,"zero":false},"axis":null},"y":{"datum":0.6,"type":"quantitative","scale":{"domain":[0,1],"nice":false,"zero":false},"axis":null},"text":{"field":"t"}}},
 {"data":{"values":[{"t":"h2o_elev_mean"}]},"mark":{"type":"rect","color":"#D9D9D9"},"encoding":{"x":{"datum":1.0053,"type":"quantitative","scale":{"domain":[0,1],"nice":false,"zero":false},"axis":null},"x2":{"datum":1.25},"y":{"datum":0,"type":"quantitative","scale":{"domain":[0,1],"nice":false,"zero":false},"axis":null},"y2":{"datum":1}}},
 {"data":{"values":[{"t":"h2o_elev_mean"}]},"mark":{"type":"text","fontSize":22,"angle":90,"color":"#1A1A1A"},"encoding":{"x":{"datum":1.1277,"type":"quantitative","scale":{"domain":[0,1],"nice":false,"zero":false},"axis":null},"y":{"datum":0.5,"type":"quantitative","scale":{"domain":[0,1],"nice":false,"zero":false},"axis":null},"text":{"field":"t"}}}
]},
{"width":188,"height":192,"data":{"name":"pts"},"mark":{"type":"circle","size":75,"color":"black","opacity":1},"encoding":{
 "x":{"field":"gw_influence","type":"quantitative","scale":{"domain":[-0.0025,0.9325],"nice":false,"zero":false},"axis":{"values":[0,0.125,0.25,0.375,0.5,0.625,0.75,0.875],"format":".2f","labelExpr":"abs(datum.value/0.25-round(datum.value/0.25))<0.01 ? datum.label : ''","tickOpacity":{"condition":{"test":"abs(datum.value/0.25-round(datum.value/0.25))<0.01","value":1},"value":0},"gridWidth":{"condition":{"test":"abs(datum.value/0.25-round(datum.value/0.25))<0.01","value":2},"value":1}}},
 "y":{"field":"sampsize","type":"quantitative","scale":{"domain":[-120,4180],"nice":false,"zero":false},"axis":{"values":[0,500,1000,1500,2000,2500,3000,3500,4000],"format":"d","minExtent":80,"maxExtent":80,"labelExpr":"abs(datum.value/1000-round(datum.value/1000))<0.01 ? datum.label : ''","tickOpacity":{"condition":{"test":"abs(datum.value/1000-round(datum.value/1000))<0.01","value":1},"value":0},"gridWidth":{"condition":{"test":"abs(datum.value/1000-round(datum.value/1000))<0.01","value":2},"value":1}}}}},
{"width":188,"height":192,"data":{"name":"pts"},"mark":{"type":"circle","size":75,"color":"black","opacity":1},"encoding":{
 "x":{"field":"h2oAreaKm2_log","type":"quantitative","scale":{"domain":[-0.32,8.35],"nice":false,"zero":false},"axis":{"values":[0,1,2,3,4,5,6,7,8],"format":"d","labelExpr":"abs(datum.value/2-round(datum.value/2))<0.01 ? datum.label : ''","tickOpacity":{"condition":{"test":"abs(datum.value/2-round(datum.value/2))<0.01","value":1},"value":0},"gridWidth":{"condition":{"test":"abs(datum.value/2-round(datum.value/2))<0.01","value":2},"value":1}}},
 "y":{"field":"sampsize","type":"quantitative","scale":{"domain":[-120,4180],"nice":false,"zero":false},"axis":{"values":[0,500,1000,1500,2000,2500,3000,3500,4000],"labels":false,"ticks":false,"gridWidth":{"condition":{"test":"abs(datum.value/1000-round(datum.value/1000))<0.01","value":2},"value":1}}}}},
{"width":188,"height":192,"data":{"name":"pts"},"mark":{"type":"circle","size":75,"color":"black","opacity":1},"encoding":{
 "x":{"field":"forest_buff_perc","type":"quantitative","scale":{"domain":[-2.7,99.1],"nice":false,"zero":false},"axis":{"values":[0,12.5,25,37.5,50,62.5,75,87.5],"format":"d","labelExpr":"abs(datum.value/25-round(datum.value/25))<0.01 ? datum.label : ''","tickOpacity":{"condition":{"test":"abs(datum.value/25-round(datum.value/25))<0.01","value":1},"value":0},"gridWidth":{"condition":{"test":"abs(datum.value/25-round(datum.value/25))<0.01","value":2},"value":1}}},
 "y":{"field":"sampsize","type":"quantitative","scale":{"domain":[-120,4180],"nice":false,"zero":false},"axis":{"values":[0,500,1000,1500,2000,2500,3000,3500,4000],"labels":false,"ticks":false,"gridWidth":{"condition":{"test":"abs(datum.value/1000-round(datum.value/1000))<0.01","value":2},"value":1}}}}},
{"width":188,"height":192,"data":{"name":"pts"},"mark":{"type":"circle","size":75,"color":"black","opacity":1},"encoding":{
 "x":{"field":"h2o_slope_mean","type":"quantitative","scale":{"domain":[-0.95,28.3],"nice":false,"zero":false},"axis":{"values":[0,5,10,15,20,25],"format":"d","labelExpr":"abs(datum.value/10-round(datum.value/10))<0.01 ? datum.label : ''","tickOpacity":{"condition":{"test":"abs(datum.value/10-round(datum.value/10))<0.01","value":1},"value":0},"gridWidth":{"condition":{"test":"abs(datum.value/10-round(datum.value/10))<0.01","value":2},"value":1}}},
 "y":{"field":"sampsize","type":"quantitative","scale":{"domain":[-120,4180],"nice":false,"zero":false},"axis":{"values":[0,500,1000,1500,2000,2500,3000,3500,4000],"labels":false,"ticks":false,"gridWidth":{"condition":{"test":"abs(datum.value/1000-round(datum.value/1000))<0.01","value":2},"value":1}}}}},
{"width":188,"height":192,"data":{"name":"pts"},"mark":{"type":"circle","size":75,"color":"black","opacity":1},"encoding":{
 "x":{"field":"h2o_elev_mean","type":"quantitative","scale":{"domain":[1805,3010],"nice":false,"zero":false},"axis":{"values":[1950,2100,2250,2400,2550,2700,2850,3000],"format":"d","labelExpr":"abs(datum.value/300-round(datum.value/300))<0.01 ? datum.label : ''","tickOpacity":{"condition":{"test":"abs(datum.value/300-round(datum.value/300))<0.01","value":1},"value":0},"gridWidth":{"condition":{"test":"abs(datum.value/300-round(datum.value/300))<0.01","value":2},"value":1}}},
 "y":{"field":"sampsize","type":"quantitative","scale":{"domain":[-120,4180],"nice":false,"zero":false},"axis":{"values":[0,500,1000,1500,2000,2500,3000,3500,4000],"labels":false,"ticks":false,"gridWidth":{"condition":{"test":"abs(datum.value/1000-round(datum.value/1000))<0.01","value":2},"value":1}}}}},
{"width":188,"height":192,"resolve":{"axis":{"x":"independent","y":"independent"}},"layer":[
 {"data":{"name":"dsamp"},"mark":{"type":"line","color":"black","strokeWidth":1.2},"encoding":{
  "x":{"field":"x","type":"quantitative","scale":{"domain":[-120,4180],"nice":false,"zero":false},"axis":{"orient":"bottom","values":[0,500,1000,1500,2000,2500,3000,3500,4000],"format":"d","labelExpr":"abs(datum.value/1000-round(datum.value/1000))<0.01 ? datum.label : ''","tickOpacity":{"condition":{"test":"abs(datum.value/1000-round(datum.value/1000))<0.01","value":1},"value":0},"gridWidth":{"condition":{"test":"abs(datum.value/1000-round(datum.value/1000))<0.01","value":2},"value":1}}},
  "y":{"field":"density","type":"quantitative","scale":{"domain":[-0.00004,0.00084],"nice":false,"zero":false},"axis":{"values":[0,0.0001,0.0002,0.0003,0.0004,0.0005,0.0006,0.0007,0.0008],"labels":false,"ticks":false,"gridWidth":{"condition":{"test":"abs(datum.value/0.0002-round(datum.value/0.0002))<0.01","value":2},"value":1}}}}},
 {"data":{"values":[{"t":"sampsize"}]},"mark":{"type":"rect","color":"#D9D9D9"},"encoding":{"x":{"datum":4202.9,"type":"quantitative","scale":{"domain":[-120,4180],"nice":false,"zero":false},"axis":null},"x2":{"datum":5255},"y":{"datum":-0.00004,"type":"quantitative","scale":{"domain":[-0.00004,0.00084],"nice":false,"zero":false},"axis":null},"y2":{"datum":0.00084}}},
 {"data":{"values":[{"t":"sampsize"}]},"mark":{"type":"text","fontSize":22,"angle":90,"color":"#1A1A1A"},"encoding":{"x":{"datum":4728.9,"type":"quantitative","scale":{"domain":[-120,4180],"nice":false,"zero":false},"axis":null},"y":{"datum":0.0004,"type":"quantitative","scale":{"domain":[-0.00004,0.00084],"nice":false,"zero":false},"axis":null},"text":{"field":"t"}}}
]}
]
}
